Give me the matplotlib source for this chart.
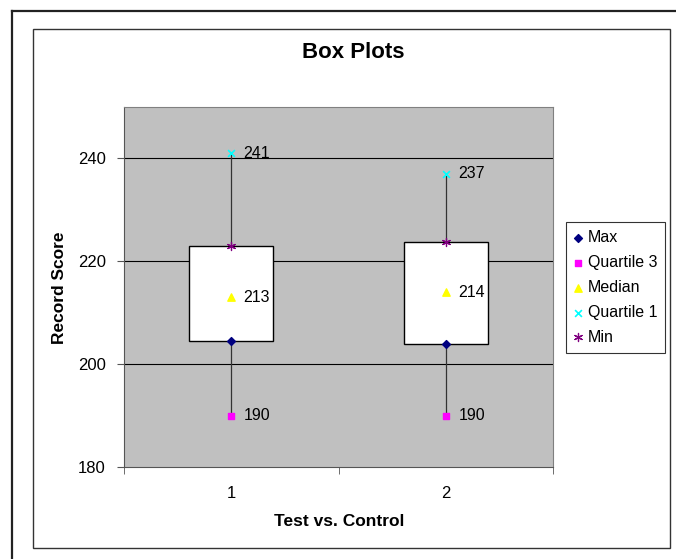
import matplotlib

matplotlib.use('Agg')
import matplotlib.pyplot as plt
from matplotlib.patches import Rectangle
from matplotlib.lines import Line2D

plt.rcParams['font.family'] = ['Liberation Sans', 'DejaVu Sans']

# --- 数据 ---
groups = [1, 2]
max_vals = [204.5, 204.0]     # 箱体下沿
q3_vals = [190, 190]
median_vals = [213, 214]
q1_vals = [241, 237]
min_vals = [223.0, 223.8]     # 箱体上沿
yticks = [180, 200, 220, 240]

fig = plt.figure(figsize=(6.76, 5.59), dpi=100)

# 外框 / 内框
fig.add_artist(Line2D([12 / 676, 12 / 676], [0, 1 - 11 / 559], transform=fig.transFigure, color='#222222', lw=1.6))
fig.add_artist(Line2D([12 / 676, 1], [1 - 11 / 559, 1 - 11 / 559], transform=fig.transFigure, color='#222222', lw=1.6))
fig.add_artist(Rectangle((33 / 676, 1 - 548 / 559), (670 - 33) / 676, (548 - 29) / 559,
                         transform=fig.transFigure, fill=False, edgecolor='#333333', lw=1.0))

ax = fig.add_axes([124 / 676, 1 - 467 / 559, (553 - 124) / 676, (467 - 107) / 559])
ax.set_facecolor('#C0C0C0')
ax.set_xlim(0.5, 2.5)
ax.set_ylim(180, 250)
ax.set_yticks(yticks)
ax.set_xticks(groups)
ax.set_xticks([0.5, 1.5, 2.5], minor=True)
ax.tick_params(axis='x', which='major', length=0, labelsize=12, pad=14)
ax.tick_params(axis='x', which='minor', length=5, direction='out', color='#555555')
ax.tick_params(axis='y', length=5, labelsize=12, pad=8, color='#555555')
for y in yticks[1:]:
    ax.axhline(y, color='black', lw=0.8, zorder=1)
for s in ['top', 'right']:
    ax.spines[s].set_color('#808080')
for s in ['left', 'bottom']:
    ax.spines[s].set_color('#555555')

box_w = 0.39
for i, g in enumerate(groups):
    lo, hi = max_vals[i], min_vals[i]
    ax.add_patch(Rectangle((g - box_w / 2, lo), box_w, hi - lo, facecolor='white',
                           edgecolor='black', lw=1.0, zorder=2))
    ax.plot([g, g], [hi, q1_vals[i]], color='#333333', lw=0.9, zorder=2)
    ax.plot([g, g], [q3_vals[i], lo], color='#333333', lw=0.9, zorder=2)

ax.scatter(groups, max_vals, marker='D', s=16, color='#000080', zorder=4, label='Max')
ax.scatter(groups, q3_vals, marker='s', s=20, color='#FF00FF', zorder=4, label='Quartile 3')
ax.scatter(groups, median_vals, marker='^', s=28, color='#FFFF00', zorder=4, label='Median')
ax.scatter(groups, q1_vals, marker='x', s=24, color='#00FFFF', lw=1.2, zorder=4, label='Quartile 1')
ax.scatter(groups, min_vals, marker=(6, 2, 0), s=34, color='#800080', lw=0.9, zorder=4, label='Min')

# 数据标签
for vals in [q1_vals, median_vals, q3_vals]:
    for g, v in zip(groups, vals):
        ax.annotate(f'{v}', (g, v), xytext=(9, 0), textcoords='offset points',
                    va='center', ha='left', fontsize=11.5, zorder=5)

fig.text(353 / 676, 1 - 53 / 559, 'Box Plots', ha='center', va='center', fontsize=16, fontweight='bold')
fig.text(60 / 676, 1 - 288 / 559, 'Record Score', ha='center', va='center', rotation=90,
         fontsize=12.5, fontweight='bold')
fig.text(339 / 676, 1 - 521 / 559, 'Test vs. Control', ha='center', va='center',
         fontsize=12.5, fontweight='bold')

leg = fig.legend(loc='upper left', bbox_to_anchor=(566 / 676, 1 - 222 / 559), frameon=True,
                 fancybox=False, edgecolor='black', fontsize=11.5, handlelength=0.5,
                 handletextpad=0.35, borderpad=0.5, labelspacing=0.62, borderaxespad=0)
leg.get_frame().set_linewidth(0.8)

fig.savefig('out.png', dpi=100)
